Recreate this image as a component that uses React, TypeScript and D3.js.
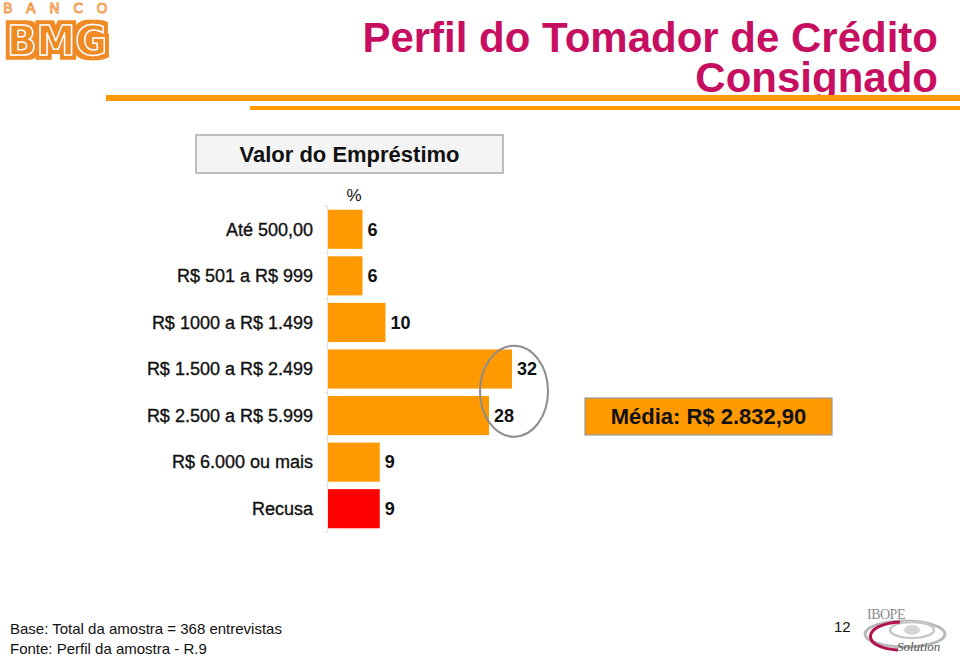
import React from "react";
import * as d3 from "d3";

const categories = [
  "Até 500,00",
  "R$ 501 a R$ 999",
  "R$ 1000 a R$ 1.499",
  "R$ 1.500 a R$ 2.499",
  "R$ 2.500 a R$ 5.999",
  "R$ 6.000 ou mais",
  "Recusa",
];
const values = [6, 6, 10, 32, 28, 9, 9];
const barColors = ["#ff9900", "#ff9900", "#ff9900", "#ff9900", "#ff9900", "#ff9900", "#ff0000"];
const highlighted = ["R$ 1.500 a R$ 2.499", "R$ 2.500 a R$ 5.999"];

const titleLines = ["Perfil do Tomador de Crédito", "Consignado"];
const chartTitle = "Valor do Empréstimo";
const unitLabel = "%";
const meanLabel = "Média: R$ 2.832,90";
const footerLines = ["Base: Total da amostra = 368 entrevistas", "Fonte: Perfil da amostra - R.9"];
const pageNumber = "12";

const W = 960;
const H = 658;
const FONT = "'Liberation Sans', Arial, Helvetica, sans-serif";

export default function App() {
  const y = d3
    .scaleBand<string>()
    .domain(categories)
    .range([206, 532])
    .paddingInner(0.16)
    .paddingOuter(0.08);
  const x = d3.scaleLinear().domain([0, 32]).range([328, 512]);

  const bw = y.bandwidth();
  const hy0 = y(highlighted[0])! + bw / 2;
  const hy1 = y(highlighted[1])! + bw / 2;
  const ellCx = x(32) + 2;
  const ellCy = (hy0 + hy1) / 2 - 1;

  const boundaries = d3.range(categories.length + 1).map((i) => 206 + i * y.step());

  return (
    <svg
      width={W}
      height={H}
      viewBox={`0 0 ${W} ${H}`}
      style={{ position: "absolute", left: 0, top: 0, background: "#fff" }}
      fontFamily={FONT}
    >
      <defs>
        <filter id="bmgOutline" x="-10%" y="-20%" width="120%" height="140%">
          <feMorphology in="SourceAlpha" operator="dilate" radius="4" result="fat" />
          <feFlood floodColor="#f08a24" result="orange" />
          <feComposite in="orange" in2="fat" operator="in" result="blob" />
          <feMerge>
            <feMergeNode in="blob" />
            <feMergeNode in="SourceGraphic" />
          </feMerge>
        </filter>
      </defs>
      <rect x={0} y={0} width={W} height={H} fill="#fff" />

      {/* BMG logo */}
      <g>
        <text
          x={3}
          y={13}
          fontSize={14}
          fill="none"
          stroke="#f0923a"
          strokeWidth={0.9}
          letterSpacing={13.5}
          fontFamily="'DejaVu Sans', sans-serif"
        >
          BANCO
        </text>
        <text
          x={57}
          y={55}
          textAnchor="middle"
          fontSize={41}
          fontWeight="bold"
          fill="#f08a24"
          stroke="#fff"
          strokeWidth={1.5}
          strokeLinejoin="round"
          fontFamily="'DejaVu Sans', sans-serif"
          textLength={100}
          lengthAdjust="spacingAndGlyphs"
          filter="url(#bmgOutline)"
        >
          BMG
        </text>
      </g>

      {/* Title */}
      <text x={938} y={52} textAnchor="end" fontSize={42} fontWeight="bold" fill="#c70f62">
        {titleLines.map((t, i) => (
          <tspan key={t} x={938} y={52 + i * 40}>
            {t}
          </tspan>
        ))}
      </text>
      <rect x={106} y={95} width={W - 106} height={6} fill="#ff9900" />
      <rect x={250} y={106} width={W - 250} height={4} fill="#ff9900" />

      {/* Chart title box */}
      <rect x={196} y={135} width={307} height={38} fill="#f4f4f4" stroke="#aaaaaa" strokeWidth={1.5} />
      <text x={349.5} y={161.5} textAnchor="middle" fontSize={22} fontWeight="bold" fill="#111">
        {chartTitle}
      </text>
      <text x={354} y={201} textAnchor="middle" fontSize={17} fill="#111">
        {unitLabel}
      </text>

      {/* Axis */}
      <line x1={x(0) - 0.5} x2={x(0) - 0.5} y1={206} y2={532} stroke="#e2e2e2" strokeWidth={1} />
      {boundaries.map((b, i) => (
        <line key={i} x1={x(0) - 4} x2={x(0)} y1={b} y2={b} stroke="#e2e2e2" strokeWidth={1} />
      ))}

      {/* Bars */}
      {categories.map((c, i) => (
        <g key={c}>
          <rect x={x(0)} y={y(c)!} width={x(values[i]) - x(0)} height={bw} fill={barColors[i]} />
          <text
            x={313}
            y={y(c)! + bw / 2}
            dy="0.35em"
            textAnchor="end"
            fontSize={18}
            fill="#111"
            stroke="#111"
            strokeWidth={0.35}
          >
            {c}
          </text>
          <text
            x={x(values[i]) + 5}
            y={y(c)! + bw / 2}
            dy="0.35em"
            fontSize={18}
            fontWeight="bold"
            fill="#111"
          >
            {values[i]}
          </text>
        </g>
      ))}

      {/* Highlight ellipse */}
      <ellipse cx={ellCx} cy={ellCy} rx={34} ry={45.5} fill="none" stroke="#8c8c8c" strokeWidth={2} />

      {/* Mean box */}
      <rect x={585} y={398} width={247} height={37} fill="#ff9900" stroke="#9a9a9a" strokeWidth={1.2} />
      <text x={708.5} y={424} textAnchor="middle" fontSize={22} fontWeight="bold" fill="#111">
        {meanLabel}
      </text>

      {/* Footer */}
      {footerLines.map((t, i) => (
        <text key={t} x={10} y={634 + i * 20} fontSize={15} fill="#111">
          {t}
        </text>
      ))}
      <text x={834} y={632} fontSize={15} fill="#111">
        {pageNumber}
      </text>

      {/* IBOPE Solution logo */}
      <g>
        <text x={867} y={619} fontSize={14} fill="#8a8a8a" fontFamily="'Liberation Serif', serif" letterSpacing={-0.5}>
          IBOPE
        </text>
        <ellipse cx={905} cy={634} rx={40} ry={13} fill="none" stroke="#b9b9b9" strokeWidth={3} />
        <ellipse cx={912} cy={630} rx={22} ry={8} fill="none" stroke="#c8c8c8" strokeWidth={2.5} />
        <ellipse cx={912} cy={630} rx={8} ry={5} fill="#d5d5d5" />
        <path d="M 900 622 C 862 624, 860 648, 898 650" fill="none" stroke="#b3124f" strokeWidth={3} />
        <text
          x={897}
          y={651}
          fontSize={13}
          fontStyle="italic"
          fill="#555"
          fontFamily="'Liberation Serif', serif"
        >
          Solution
        </text>
      </g>
    </svg>
  );
}
